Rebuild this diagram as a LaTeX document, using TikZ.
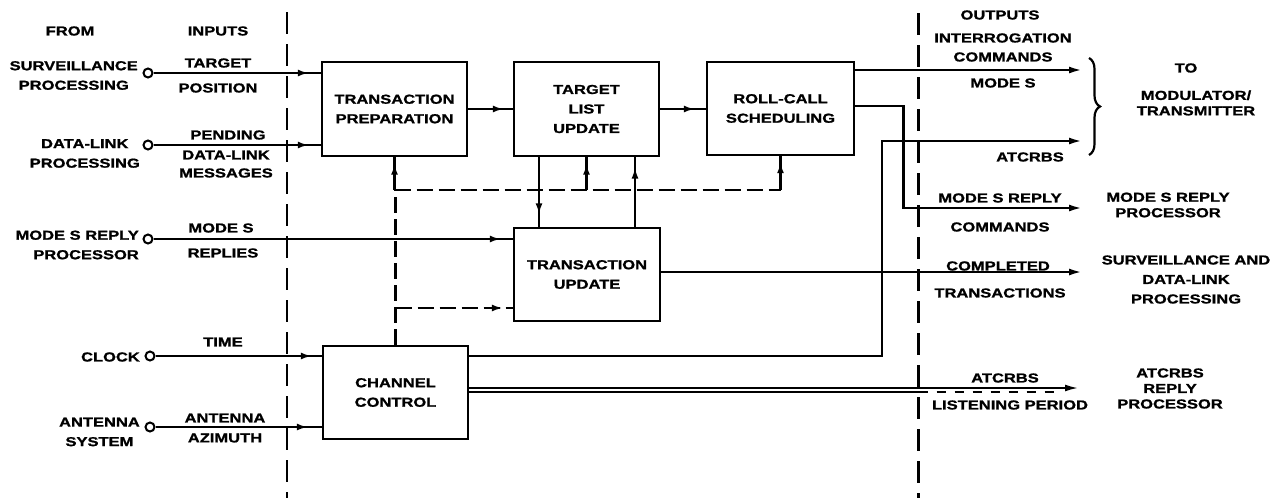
\documentclass[tikz,border=0pt]{standalone}
\usepackage{fontspec}
\newfontfamily\lblfont[FakeStretch=1.27,BoldFeatures={FakeBold=1.2}]{Liberation Sans}
\usetikzlibrary{arrows.meta,decorations.markings,decorations.pathreplacing}
\newcommand\lfnt{\lblfont\bfseries\fontsize{13}{19.5}\selectfont}
\newcommand\lfnttight{\lblfont\bfseries\fontsize{13}{15.5}\selectfont}
\begin{document}
\begin{tikzpicture}[x=1pt,y=-1pt,
  every node/.style={font=\lfnt, inner sep=0pt, align=center},
  box/.style={draw, line width=2.3pt, minimum width=145pt, minimum height=94pt},
  src/.style={draw, circle, line width=2pt, fill=white, minimum size=9pt},
  ln/.style={line width=2.3pt},
  dsh/.style={line width=2.3pt, dash pattern=on 16pt off 6pt},
  divider/.style={line width=2.6pt, dash pattern=on 22pt off 10pt},
  ah/.style={-{Latex[length=13pt,width=7pt]}},
  ar/.style={postaction={decorate, decoration={markings, mark=at position #1 with {\arrow{Latex[length=11pt,width=7pt]}}}}},
  tight/.style={font=\lfnttight}
]
\fill[white] (0,0) rectangle (1282,498);
\useasboundingbox (0,0) rectangle (1282,498);

% dividers
\coordinate (dl1) at (287,12);  \coordinate (dl2) at (287,498);
\coordinate (dr1) at (918.5,13); \coordinate (dr2) at (918.5,498);
\draw[divider] (dl1) -- (dl2);
\draw[divider] (dr1) -- (dr2);

% headings
\node (hfrom) at (70,31) {FROM};
\node (hin) at (218,31) {INPUTS};
\node (hout) at (1000,15) {OUTPUTS};

% boxes
\node[box] (tp) at (394.5,109) {TRANSACTION\\PREPARATION};
\node[box] (tlu) at (586.5,109) {TARGET\\LIST\\UPDATE};
\node[box, minimum width=147pt, minimum height=93pt] (rc) at (780.5,108.5) {ROLL-CALL\\SCHEDULING};
\node[box, minimum width=146pt, minimum height=93pt] (tu) at (587,274.5) {TRANSACTION\\UPDATE};
\node[box, minimum height=93pt] (cc) at (395.5,392.5) {CHANNEL\\CONTROL};

% sources
\node[src] (s1) at (148,73) {};
\node[src] (s2) at (148,145) {};
\node[src] (s3) at (148,239) {};
\node[src] (s4) at (150,356) {};
\node[src] (s5) at (150,427) {};
\node[anchor=east] (l1) at (138,75.5) {SURVEILLANCE\\PROCESSING};
\node[anchor=east] (l2) at (140,153.5) {DATA-LINK\\PROCESSING};
\node[anchor=east, align=right] (l3) at (139,245) {MODE S REPLY\\PROCESSOR};
\node[anchor=east] (l4) at (140,357) {CLOCK};
\node[anchor=east] (l5) at (140,432) {ANTENNA\\SYSTEM};

% input labels
\node (i1a) at (218,63) {TARGET};
\node (i1b) at (218,88) {POSITION};
\node (i2a) at (228,135) {PENDING};
\node (i2b) at (226,155) {DATA-LINK};
\node (i2c) at (226,173) {MESSAGES};
\node (i3a) at (221,228) {MODE S};
\node (i3b) at (223,253) {REPLIES};
\node (i4) at (223,342) {TIME};
\node (i5a) at (225,418) {ANTENNA};
\node (i5b) at (225,438) {AZIMUTH};

% inputs
\draw[ln, ar=-12pt] (s1) -- (s1 -| tp.west);
\draw[ln, ar=-12pt] (s2) -- (s2 -| tp.west);
\draw[ln, ar=-12pt] (s3) -- (s3 -| tu.west);
\draw[ln, ar=-10pt] (s4) -- (s4 -| cc.west);
\draw[ln, ar=-14pt] (s5) -- (s5 -| cc.west);

% internal flow
\draw[ln, ar=-9pt] (tp.east) -- (tlu.west);
\draw[ln, ar=-11pt] (tlu.east) -- (tlu.east -| rc.west);
\coordinate (xa) at (539,0);
\coordinate (xb) at (635,0);
\draw[ln, ar=0.82] (tlu.south -| xa) -- (tu.north -| xa);
\draw[ln, ar=0.85] (tu.north -| xb) -- (tlu.south -| xb);

% control (dashed)
\coordinate (hy) at (0,190);
\coordinate (hy2) at (0,308);
\draw[dsh] (cc.north) -- (cc.north |- hy) -- (rc.south |- hy);
\draw[ln, ar=0.8] (tp.south |- hy) -- (tp.south);
\draw[ln, ar=0.8] (tlu.south |- hy) -- (tlu.south);
\draw[ln, ar=0.82] (rc.south |- hy) -- (rc.south);
\draw[dsh, ar=-10pt] (cc.north |- hy2) -- (tu.west |- hy2);

% outputs
\coordinate (ex) at (1082,0);
\coordinate (v1) at (882,0);
\coordinate (v2) at (903.5,0);
\coordinate (y70) at (0,70);
\coordinate (y106) at (0,106);
\coordinate (y141) at (0,141);
\coordinate (y208) at (0,208);
\coordinate (y272) at (0,272);
\coordinate (y356) at (0,356);
\coordinate (y388) at (0,388);
\coordinate (y393) at (0,392);
\draw[ln, ah] (rc.east |- y70) -- (ex |- y70);
\draw[ln, ah] (rc.east |- y106) -- (v2 |- y106) -- (v2 |- y208) -- (ex |- y208);
\draw[ln, ah] (cc.east |- y356) -- (v1 |- y356) -- (v1 |- y141) -- (ex |- y141);
\draw[ln, ah] (tu.east |- y272) -- (ex |- y272);
\draw[line width=1.8pt, ah] (cc.east |- y388) -- (1078,388);
\draw[line width=1.2pt] (cc.east |- y393) -- (dr1 |- y393);
\draw[line width=1.2pt, dash pattern=on 9pt off 9pt] (dr1 |- y393) -- (1062,392);

% brace
\coordinate (bt) at (1089,58);
\coordinate (bb) at (1089,155);
\draw[line width=2.2pt, decorate, decoration={brace, amplitude=11pt}] (bt) -- (bb);

% output labels
\node (o1a) at (1003,38) {INTERROGATION};
\node (o1b) at (1003,57) {COMMANDS};
\node (o1c) at (1003,83) {MODE S};
\node (o2) at (1030,157) {ATCRBS};
\node (o3a) at (1000,198) {MODE S REPLY};
\node (o3b) at (1000,227) {COMMANDS};
\node (o4a) at (998,266) {COMPLETED};
\node (o4b) at (1000,293) {TRANSACTIONS};
\node (o5a) at (1005,378) {ATCRBS};
\node (o5b) at (1010,405) {LISTENING PERIOD};

% destinations
\node (dto) at (1186,68) {TO};
\node[tight] (dmod) at (1196,103) {MODULATOR/\\TRANSMITTER};
\node[tight] (dmsr) at (1168,205) {MODE S REPLY\\PROCESSOR};
\node (dsur) at (1186,279.5) {SURVEILLANCE AND\\DATA-LINK\\PROCESSING};
\node[tight] (datc) at (1170,388.5) {ATCRBS\\REPLY\\PROCESSOR};
\end{tikzpicture}
\end{document}
